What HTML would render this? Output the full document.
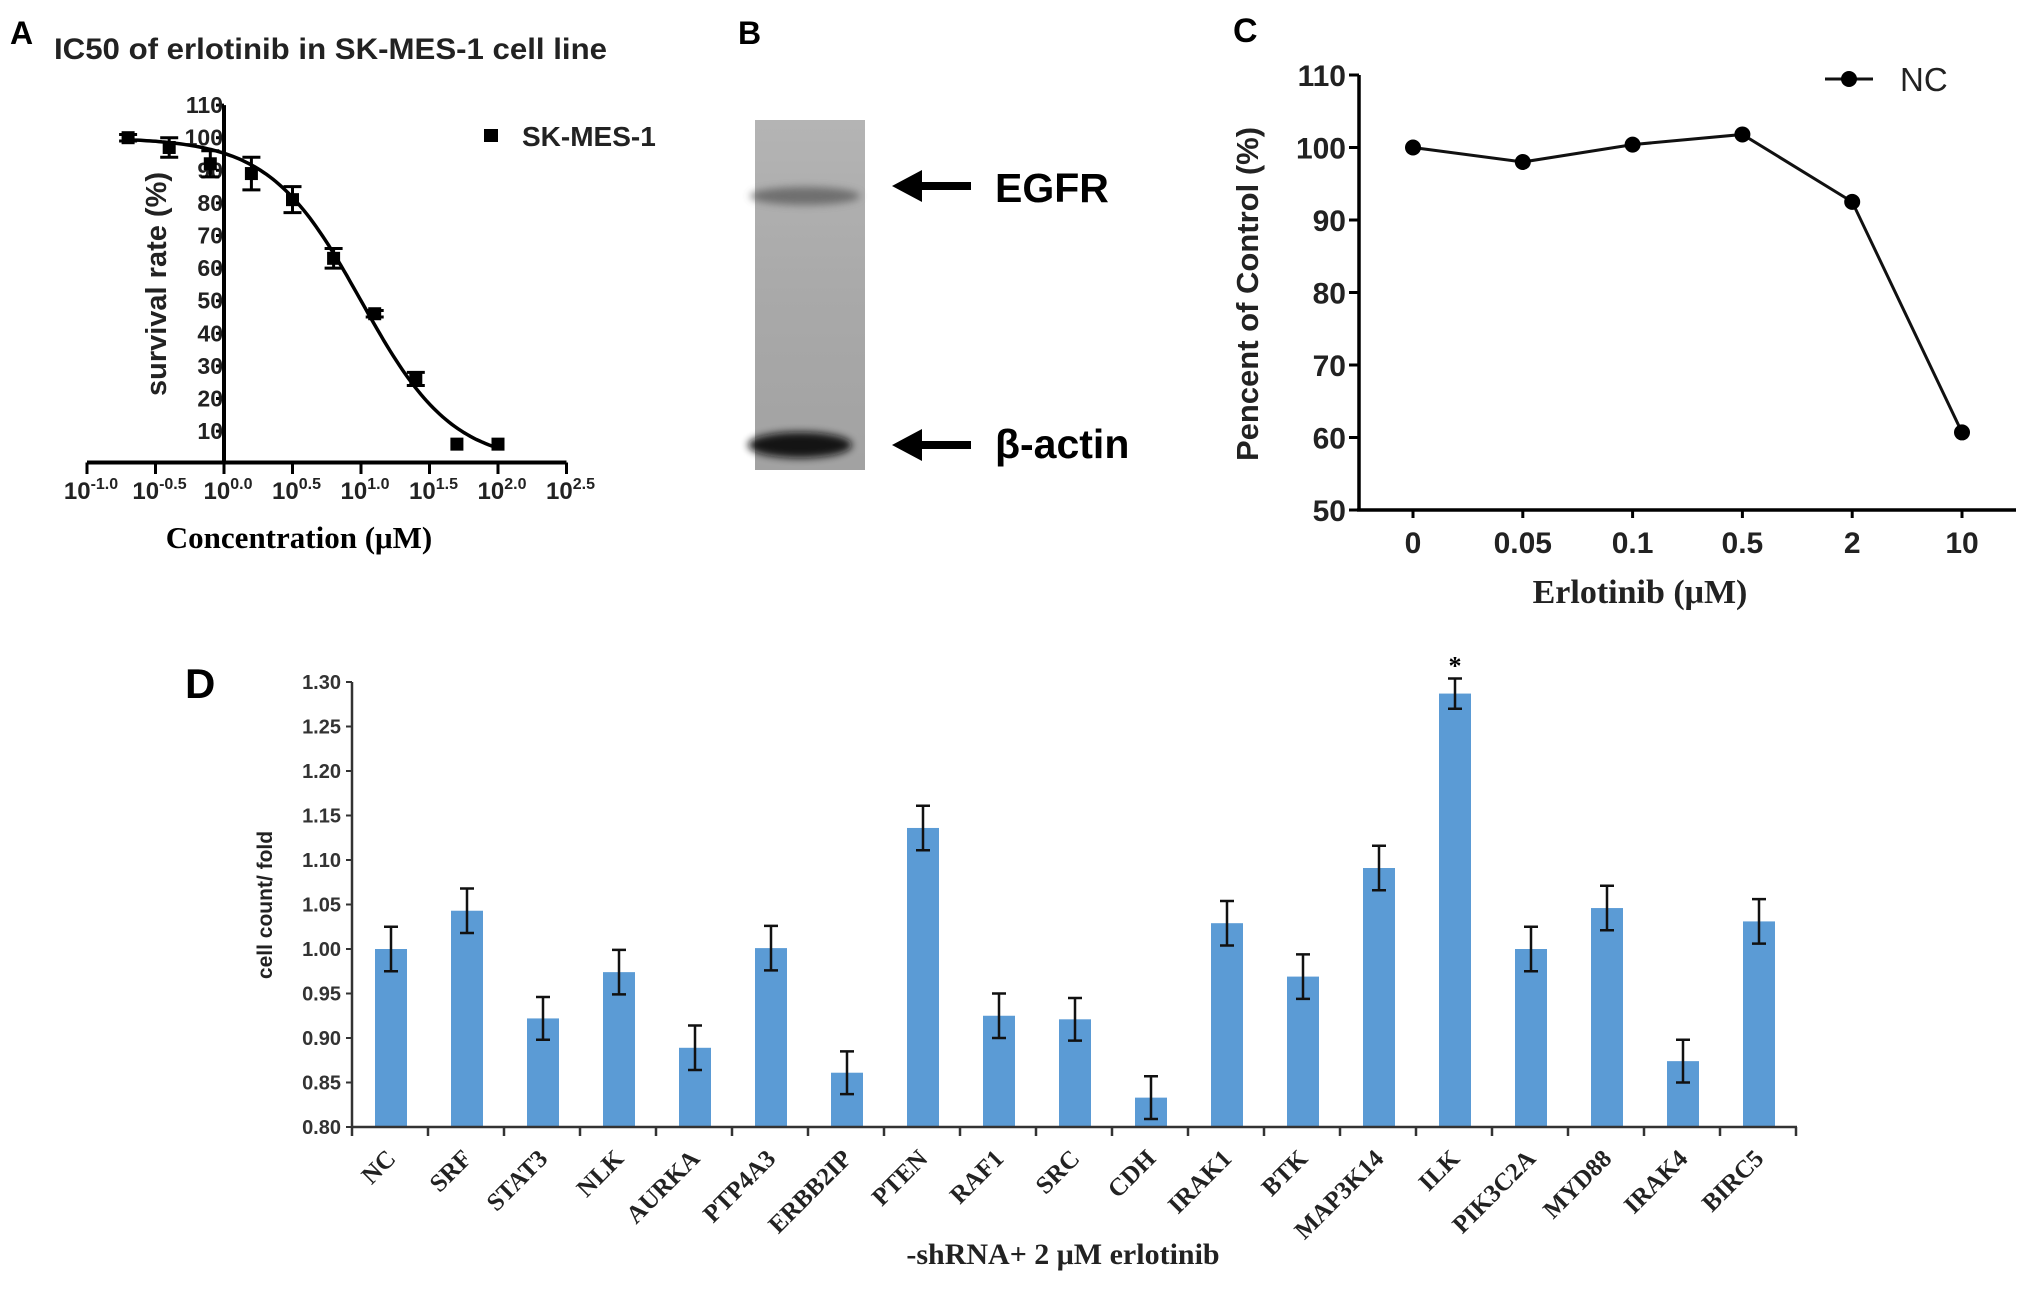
<!DOCTYPE html>
<html><head><meta charset="utf-8"><style>
html,body{margin:0;padding:0;background:#fff}
svg{display:block}
text{font-family:"Liberation Sans",Arial,sans-serif}
.serif{font-family:"Liberation Serif","Times New Roman",serif}
</style></head><body>
<svg id="fig" width="2031" height="1294" viewBox="0 0 2031 1294" xmlns="http://www.w3.org/2000/svg">
<defs>
<filter id="blur4" x="-20%" y="-100%" width="140%" height="300%"><feGaussianBlur stdDeviation="4"/></filter>
<linearGradient id="blotbg" x1="0" y1="0" x2="0" y2="1">
<stop offset="0" stop-color="#b4b4b4"/><stop offset="0.5" stop-color="#a9a9a9"/><stop offset="1" stop-color="#a2a2a2"/>
</linearGradient>
</defs>
<g id="panelA"></g>
<g id="panelB">
<text x="738" y="44" font-size="32" font-weight="bold">B</text>
<rect x="755" y="120" width="110" height="350" fill="url(#blotbg)"/>
<ellipse cx="805" cy="196" rx="55" ry="9" fill="#5a5a5a" opacity="0.75" filter="url(#blur4)"/>
<ellipse cx="800" cy="445" rx="52" ry="13" fill="#111" opacity="0.95" filter="url(#blur4)"/>
<g>
<rect x="915" y="182" width="56" height="8" fill="#000"/>
<polygon points="892,186 922,170 922,202" fill="#000"/>
</g>
<text x="995" y="202" font-size="41" font-weight="bold">EGFR</text>
<g>
<rect x="915" y="441" width="56" height="8" fill="#000"/>
<polygon points="892,445 922,429 922,461" fill="#000"/>
</g>
<text x="995" y="458" font-size="41" font-weight="bold">β-actin</text>
</g>
<g id="panelC"></g>
<g id="panelD"></g>
</svg>
<script>
// ---------- Panel A data ----------
const aLogConc = [-0.7, -0.4, -0.1, 0.2, 0.5, 0.8, 1.1, 1.4, 1.7, 2.0];
const aSurvival = [100, 97, 92, 89, 81, 63, 46, 26, 6, 6];
const aErr = [1, 3, 4, 5, 4, 3, 1, 2, 0, 0];
const aYTicks = [10, 20, 30, 40, 50, 60, 70, 80, 90, 100, 110];
const aXTicks = [-1.0, -0.5, 0.0, 0.5, 1.0, 1.5, 2.0, 2.5];
const aFitTop = [100];
const aFitBottom = [0];
const aFitLogIC50 = [1.0];
const aFitHill = [1.3];
// ---------- Panel C data ----------
const cCats = ["0", "0.05", "0.1", "0.5", "2", "10"];
const cValues = [100, 98, 100.4, 101.8, 92.5, 60.7];
const cYTicks = [50, 60, 70, 80, 90, 100, 110];
// ---------- Panel D data ----------
const dCats = ["NC","SRF","STAT3","NLK","AURKA","PTP4A3","ERBB2IP","PTEN","RAF1","SRC","CDH","IRAK1","BTK","MAP3K14","ILK","PIK3C2A","MYD88","IRAK4","BIRC5"];
const dValues = [1.000,1.043,0.922,0.974,0.889,1.001,0.861,1.136,0.925,0.921,0.833,1.029,0.969,1.091,1.287,1.000,1.046,0.874,1.031];
const dErr = [0.025,0.025,0.024,0.025,0.025,0.025,0.024,0.025,0.025,0.024,0.024,0.025,0.025,0.025,0.017,0.025,0.025,0.024,0.025];
const dYTicks = ["0.80","0.85","0.90","0.95","1.00","1.05","1.10","1.15","1.20","1.25","1.30"];
const dStars = ["","","","","","","","","","","","","","","*","","","",""];

const NS = "http://www.w3.org/2000/svg";
function mk(parent, tag, attrs, text) {
  const e = document.createElementNS(NS, tag);
  for (const k in attrs) e.setAttribute(k, attrs[k]);
  if (text !== undefined) e.textContent = text;
  parent.appendChild(e);
  return e;
}

// ================= Panel A =================
(function(){
  const g = document.getElementById('panelA');
  const x = v => 224 + v * 137;
  const y = v => 463.7 - v * 3.26;
  let t;
  t = mk(g,'text',{x:10,y:44,'font-size':32,'font-weight':'bold'},'A');
   
  t = mk(g,'text',{x:54,y:59,'font-size':30,'font-weight':'bold',fill:'#222',textLength:553,lengthAdjust:'spacingAndGlyphs'},'IC50 of  erlotinib in SK-MES-1 cell line');
   
  let l = mk(g,'line',{x1:x(0),y1:y(110),x2:x(0),y2:462.5,stroke:'#000','stroke-width':4});
   
  l = mk(g,'line',{x1:x(-1),y1:462.5,x2:x(2.5),y2:462.5,stroke:'#000','stroke-width':4});
   
  aYTicks.forEach(v=>{
    mk(g,'line',{x1:x(0)-8,y1:y(v),x2:x(0),y2:y(v),stroke:'#000','stroke-width':3});
    const tt = mk(g,'text',{x:x(0)-1,y:y(v)+8,'font-size':23,'font-weight':'bold','text-anchor':'end',fill:'#222'},String(v));
     
  });
  aXTicks.forEach(v=>{
    mk(g,'line',{x1:x(v),y1:462.5,x2:x(v),y2:474,stroke:'#000','stroke-width':3});
    const tt = mk(g,'text',{x:x(v)+4,y:499,'font-size':24,'font-weight':'bold','text-anchor':'middle',fill:'#222'});
    mk(tt,'tspan',{},'10');
    mk(tt,'tspan',{dy:-10,'font-size':16},v.toFixed(1));
     
  });
  t = mk(g,'text',{x:299,y:548,'font-size':31,'font-weight':'bold','text-anchor':'middle',class:'serif'},'Concentration (μM)');
   
  t = mk(g,'text',{x:0,y:0,'font-size':29,'font-weight':'bold','text-anchor':'middle',transform:'translate(166,284) rotate(-90)',fill:'#222'},'survival rate (%)');
   
  let d = '';
  for (let i=0;i<=120;i++){
    const lx = aLogConc[0] + (aLogConc[aLogConc.length-1]-aLogConc[0])*i/120;
    const yv = aFitBottom[0] + (aFitTop[0]-aFitBottom[0])/(1+Math.pow(10,(lx-aFitLogIC50[0])*aFitHill[0]));
    d += (i?'L':'M') + x(lx).toFixed(1) + ',' + y(yv).toFixed(1);
  }
  const p = mk(g,'path',{d:d,fill:'none',stroke:'#000','stroke-width':3.5});
   
  aLogConc.forEach((c,i)=>{
    const cx = x(c), cy = y(aSurvival[i]), e = aErr[i]*3.26;
    if (aErr[i]>0){
      const eb = mk(g,'path',{d:`M${cx},${cy-e}V${cy+e}M${cx-9},${cy-e}H${cx+9}M${cx-9},${cy+e}H${cx+9}`,stroke:'#000','stroke-width':3,fill:'none'});
       
    }
    const r = mk(g,'rect',{x:cx-6.5,y:cy-6.5,width:13,height:13,fill:'#000'});
     
  });
  const lg = mk(g,'g',{});
   
  mk(lg,'rect',{x:484,y:129,width:14,height:13,fill:'#000'});
  mk(lg,'text',{x:522,y:146,'font-size':28,'font-weight':'bold',fill:'#222'},'SK-MES-1');
})();

// ================= Panel C =================
(function(){
  const g = document.getElementById('panelC');
  const x = i => 1413 + i * 109.8;
  const y = v => 510 - (v-50) * 7.25;
  let t = mk(g,'text',{x:1233,y:42,'font-size':34,'font-weight':'bold'},'C');
   
  let l = mk(g,'line',{x1:1359,y1:y(110),x2:1359,y2:511,stroke:'#000','stroke-width':3.5});
   
  l = mk(g,'line',{x1:1357,y1:510,x2:2016,y2:510,stroke:'#000','stroke-width':3.5});
   
  cYTicks.forEach(v=>{
    mk(g,'line',{x1:1349,y1:y(v),x2:1359,y2:y(v),stroke:'#000','stroke-width':3});
    const tt = mk(g,'text',{x:1346,y:y(v)+11,'font-size':30,'font-weight':'bold','text-anchor':'end',fill:'#222'},String(v));
     
  });
  cCats.forEach((c,i)=>{
    mk(g,'line',{x1:x(i),y1:510,x2:x(i),y2:518,stroke:'#000','stroke-width':3});
    const tt = mk(g,'text',{x:x(i),y:553,'font-size':30,'font-weight':'bold','text-anchor':'middle',fill:'#222'},c);
     
  });
  t = mk(g,'text',{x:1640,y:603,'font-size':34,'font-weight':'bold','text-anchor':'middle',class:'serif',fill:'#222'},'Erlotinib (μM)');
   
  t = mk(g,'text',{x:0,y:0,'font-size':31,'font-weight':'bold','text-anchor':'middle',transform:'translate(1258,294) rotate(-90)',fill:'#222'},'Pencent of Control (%)');
   
  const pts = cValues.map((v,i)=>x(i)+','+y(v)).join(' ');
  const pl = mk(g,'polyline',{points:pts,fill:'none',stroke:'#111','stroke-width':3});
   
  cValues.forEach((v,i)=>{
    const c = mk(g,'circle',{cx:x(i),cy:y(v),r:8,fill:'#000'});
     
  });
  const lg = mk(g,'g',{});
   
  mk(lg,'line',{x1:1825,y1:79,x2:1873,y2:79,stroke:'#111','stroke-width':3});
  mk(lg,'circle',{cx:1849,cy:79,r:8,fill:'#000'});
  mk(lg,'text',{x:1900,y:91,'font-size':33,fill:'#222'},'NC');
})();

// ================= Panel D =================
(function(){
  const g = document.getElementById('panelD');
  const x = i => 391 + i * 76;
  const y = v => 1127 - (v-0.80) * 890;
  let t = mk(g,'text',{x:185,y:698,'font-size':42,'font-weight':'bold'},'D');
   
  dYTicks.forEach(s=>{
    const v = parseFloat(s);
    mk(g,'line',{x1:346,y1:y(v),x2:352,y2:y(v),stroke:'#333','stroke-width':2});
    const tt = mk(g,'text',{x:341,y:y(v)+7,'font-size':20,'font-weight':'bold','text-anchor':'end',fill:'#333'},s);
     
  });
  t = mk(g,'text',{x:0,y:0,'font-size':21,'font-weight':'bold','text-anchor':'middle',transform:'translate(272,905) rotate(-90)',fill:'#222'},'cell count/ fold');
   
  dCats.forEach((c,i)=>{
    const bx = x(i), top = y(dValues[i]);
    const r = mk(g,'rect',{x:bx-16,y:top,width:32,height:1127-top,fill:'#5b9bd5'});
     
    const e1 = y(dValues[i]+dErr[i]), e2 = y(dValues[i]-dErr[i]);
    const eb = mk(g,'path',{d:`M${bx},${e1}V${e2}M${bx-7},${e1}H${bx+7}M${bx-7},${e2}H${bx+7}`,stroke:'#111','stroke-width':2.5,fill:'none'});
     
    if (dStars[i]) {
      const st = mk(g,'text',{x:bx,y:e1-4,'font-size':26,'font-weight':'bold','text-anchor':'middle',class:'serif'},dStars[i]);
       
    }
    const tt = mk(g,'text',{x:0,y:0,'font-size':25,'font-weight':'bold','text-anchor':'end',class:'serif',fill:'#222',transform:`translate(${bx+6},${1160}) rotate(-45)`},c);
     
  });
  for (let k=0;k<=dCats.length;k++){
    mk(g,'line',{x1:352+k*76,y1:1127,x2:352+k*76,y2:1136,stroke:'#333','stroke-width':2.5});
  }
  let l = mk(g,'line',{x1:352,y1:y(1.30),x2:352,y2:1128,stroke:'#333','stroke-width':2.5});
   
  l = mk(g,'line',{x1:351,y1:1127,x2:1797,y2:1127,stroke:'#333','stroke-width':2.5});
   
  t = mk(g,'text',{x:1063,y:1264,'font-size':30,'font-weight':'bold','text-anchor':'middle',class:'serif',fill:'#222'},'-shRNA+ 2 μM erlotinib');
   
})();
</script>
</body></html>
